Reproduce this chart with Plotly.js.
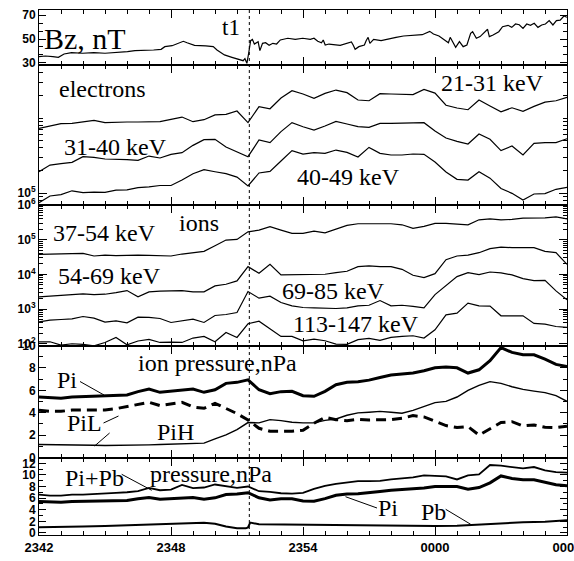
<!DOCTYPE html>
<html><head><meta charset="utf-8">
<script src="https://cdn.plot.ly/plotly-3.0.1.min.js"></script>
<style>html,body{margin:0;padding:0;background:#fff;}#chart{width:574px;height:561px;}</style>
</head><body><div id="chart"></div>
<script>
// ---- time axis (minutes after 23:42) ----
const X_TICKS = [0, 6, 12, 18, 24];
const X_TICK_LABELS = ["2342", "2348", "2354", "0000", "0006"];
const T1 = 9.56;

// ---- Bz, nT ----
const BZ_T = [0,0.29,0.63,0.88,1.14,1.48,1.98,2.49,3.0,3.51,4.02,4.36,4.87,5.21,5.55,5.72,6.05,6.39,6.56,6.73,7.07,7.58,7.92,8.09,8.43,8.77,9.11,9.28,9.36,9.45,9.53,9.62,9.70,9.79,9.96,10.04,10.16,10.30,10.46,10.63,10.80,10.97,11.31,11.65,11.99,12.33,12.50,12.67,12.84,12.92,13.01,13.18,13.69,14.03,14.20,14.28,14.37,14.54,14.79,14.87,14.96,15.04,15.21,15.55,15.89,16.23,16.57,16.91,17.42,17.76,17.93,18.18,18.44,18.61,18.69,18.86,18.94,19.11,19.28,19.45,19.62,19.71,19.88,20.05,20.22,20.39,20.47,20.64,20.90,21.07,21.32,21.49,21.66,21.83,22.00,22.17,22.34,22.51,22.68,22.85,23.02,23.19,23.36,23.52,23.69,23.86,24.0];
const BZ = [35.3,35.8,35.3,34.7,37.5,38.6,38.1,38.6,38.1,38.6,39.4,40.3,40.3,40.8,41.4,43.6,44.4,46.9,48.1,46.9,44.7,44.2,43.6,40.8,36.7,34.7,32.5,31.9,33.6,29.7,38.1,48.6,49.7,45.8,47.8,40.3,46.4,46.9,44.7,46.4,45.8,49.2,50.6,49.7,50.6,49.7,50.6,48.1,46.9,49.2,45.0,45.8,44.7,46.9,47.5,45.0,41.4,43.6,45.0,48.6,51.4,46.4,49.7,48.6,50.3,51.4,52.5,53.1,53.6,56.4,54.2,52.5,49.2,46.9,51.4,46.4,43.1,47.8,43.6,45.0,54.7,56.1,50.6,52.0,54.7,58.1,52.0,53.3,56.1,60.3,61.4,59.7,62.5,61.9,58.9,62.5,61.4,63.1,59.7,61.7,62.5,65.3,61.7,65.3,65.8,69.2,68.1];

// ---- particle sample times (minutes) ----
const T = [0,0.5,1,1.5,2,2.5,3,3.5,4,4.5,5,5.5,6,6.5,7,7.5,8,8.5,9,9.5,10,10.5,11,11.5,12,12.5,13,13.5,14,14.5,15,15.5,16,16.5,17,17.5,18,18.5,19,19.5,20,20.5,21,21.5,22,22.5,23,23.5,24];

// ---- electrons ----
const E21_31 = [7.28e5,7.82e5,8.40e5,8.49e5,8.93e5,9.31e5,8.67e5,8.85e5,8.85e5,8.85e5,8.85e5,8.93e5,9.60e5,1.03e6,8.93e5,9.50e5,1.10e6,1.12e6,1.24e6,8.67e5,1.42e6,1.33e6,1.85e6,2.31e6,2.09e6,1.83e6,2.13e6,2.36e6,2.18e6,1.74e6,1.70e6,2.11e6,2.09e6,2.09e6,2.05e6,2.41e6,2.15e6,1.48e6,1.36e6,1.29e6,1.74e6,1.45e6,1.21e6,1.37e6,1.23e6,1.43e6,1.63e6,1.70e6,1.89e6];
const E31_40 = [1.92e5,2.36e5,2.46e5,2.56e5,3.05e5,2.99e5,2.84e5,2.84e5,2.78e5,2.73e5,3.11e5,2.93e5,3.28e5,3.45e5,4.32e5,5.14e5,5.20e5,4.10e5,3.56e5,3.05e5,5.09e5,4.69e5,6.58e5,8.67e5,7.66e5,6.92e5,7.82e5,9.03e5,8.32e5,7.66e5,7.51e5,8.49e5,8.49e5,8.49e5,8.49e5,8.67e5,6.71e5,5.41e5,4.89e5,4.50e5,6.12e5,5.20e5,3.67e5,4.24e5,3.21e5,4.59e5,4.69e5,4.69e5,5.30e5];
const E40_49 = [7.43e4,9.12e4,9.50e4,1.07e5,1.01e5,1.03e5,1.02e5,1.09e5,1.10e5,1.18e5,1.21e5,1.26e5,1.26e5,1.49e5,1.81e5,2.05e5,1.92e5,1.81e5,1.63e5,1.24e5,1.85e5,1.94e5,2.67e5,3.67e5,3.31e5,3.45e5,3.38e5,3.74e5,3.48e5,3.02e5,4.06e5,3.38e5,3.21e5,3.21e5,3.31e5,3.28e5,2.59e5,1.91e5,1.52e5,1.49e5,1.92e5,1.58e5,1.15e5,9.9e4,8.07e4,9.7e4,9.8e4,1.12e5,1.19e5];

// ---- ions ----
const I37_54 = [3.78e4,3.86e4,3.86e4,3.95e4,4.04e4,3.39e4,3.61e4,3.46e4,3.61e4,3.61e4,3.54e4,3.39e4,3.39e4,3.86e4,4.13e4,4.61e4,6.71e4,9.75e4,1.02e5,1.69e5,1.89e5,2.36e5,1.89e5,1.52e5,1.52e5,1.77e5,1.58e5,2.07e5,2.58e5,2.88e5,2.88e5,2.81e5,2.88e5,2.69e5,2.11e5,2.41e5,2.94e5,2.94e5,2.75e5,2.69e5,3.75e5,4.00e5,3.75e5,3.83e5,4.19e5,4.19e5,4.28e5,4.57e5,4.00e5];
const I54_69 = [2.25e3,2.35e3,2.51e3,2.62e3,2.74e3,2.62e3,2.68e3,2.99e3,3.41e3,2.25e3,3.13e3,3.27e3,3.27e3,3.41e3,3.13e3,3.13e3,4.66e3,5.19e3,6.47e3,1.67e4,1.08e4,1.95e4,9.64e3,9.84e3,1.01e4,1.03e4,1.01e4,1.12e4,1.23e4,1.67e4,1.75e4,1.67e4,1.67e4,1.40e4,9.42e3,8.07e3,1.05e4,2.65e4,3.39e4,3.61e4,4.22e4,5.51e4,6.14e4,5.87e4,5.87e4,5.87e4,4.61e4,4.22e4,1.95e4];
const I69_85 = [430,480,501,524,611,547,421,459,402,585,573,536,411,459,513,411,653,698,796,3200,2060,2350,1550,1240,1110,1080,1040,1040,1080,1240,1290,1760,1240,1290,1190,1080,2620,4660,8630,11200,9840,11700,11000,9640,7550,6620,6760,3340,1850];
const I113_147 = [114,114,91.8,100,96,87.7,109,152,93.8,120,133,109,112,109,146,163,114,212,152,377,449,264,163,163,122,136,122,98,96,131,143,125,152,163,170,146,253,682,762,1480,1240,1220,640,640,640,385,368,315,295];

// ---- ion pressure, nPa ----
const PI = [5.40,5.31,5.28,5.40,5.43,5.43,5.52,5.49,5.58,5.88,6.11,5.82,5.91,6.05,6.11,5.82,6.05,6.62,6.71,6.94,6.05,5.70,5.88,5.91,5.52,5.46,5.91,6.50,6.71,6.77,6.91,7.15,7.36,7.45,7.54,7.74,8.01,8.07,8.01,7.54,7.83,8.64,9.82,9.38,9.17,9.17,8.78,8.31,8.13];
const PIL = [4.21,4.12,4.12,4.24,4.24,4.21,4.24,4.36,4.57,4.78,4.93,4.63,4.81,4.93,4.51,4.39,4.84,4.36,3.92,3.35,2.61,2.34,2.34,2.34,2.43,3.06,3.59,3.38,3.29,3.41,3.35,3.35,3.38,3.50,3.74,3.62,3.23,2.85,2.67,2.76,2.0,2.58,3.12,3.20,2.82,2.91,2.70,2.67,2.79];
const PIH = [1.16,1.16,1.16,1.16,1.13,1.10,1.07,1.07,1.07,1.10,1.13,1.16,1.19,1.19,1.22,1.28,1.66,2.02,2.49,3.12,3.09,3.38,3.29,3.15,3.09,3.09,3.32,3.44,3.77,3.98,4.04,4.12,4.04,3.95,4.21,4.57,4.90,5.01,5.40,5.99,6.44,6.77,6.62,6.32,6.08,5.93,5.79,5.52,5.01];

// ---- total pressure, nPa ----
const PIPB = [6.61,6.43,6.43,6.61,6.61,6.67,6.78,6.90,7.01,7.19,7.77,7.36,7.48,8.29,7.71,7.83,8.35,8.00,7.77,8.00,7.19,7.07,6.84,6.78,6.90,7.59,8.12,8.46,8.75,8.93,8.93,8.99,9.22,9.39,9.57,9.91,9.80,9.74,9.22,9.91,10.09,11.71,11.59,11.42,11.13,11.36,10.78,10.49,10.38];
const PB_T = [0,1,2,3,4,5,6,7,7.5,8,8.5,9,9.4,9.5,9.6,10,11,12,13,14,15,16,17,18,19,20,21,22,23,24];
const PB = [1.0,1.0,1.1,1.2,1.3,1.4,1.5,1.7,1.75,1.6,1.1,0.8,0.8,0.95,1.8,1.5,1.45,1.4,1.45,1.35,1.3,1.25,1.25,1.2,1.25,1.45,1.7,1.85,1.95,2.2];

// ---------------- layout helpers ----------------
const W = 574, H = 561;
const PL = 39, PR = 567, PT = 10, PBOT = 535;  // plot area in px
const edges = [10, 65, 205, 345.5, 457.5, 535];
const py = y => (PBOT - y) / (PBOT - PT);
const px = x => (x - PL) / (PR - PL);
const dom = i => [py(edges[i + 1]), py(edges[i])];

const SANS = "Liberation Sans";
const SERIF = "Liberation Serif";
const tickFont = {family: SANS, size: 12, color: "#000", weight: "bold"};
const baseAxis = {
  showline: true, linecolor: "#000", linewidth: 1, mirror: "allticks",
  ticks: "inside", tickcolor: "#000", tickwidth: 1, showgrid: false, zeroline: false,
  tickfont: tickFont, fixedrange: true
};
function logMinor(lo, hi) {
  const v = [];
  for (let e = lo; e <= hi; e++) for (let k = 2; k <= 9; k++) v.push(k * Math.pow(10, e));
  return v;
}
const xMinor = [];
for (let m = 1; m < 24; m++) if (m % 6) xMinor.push(m);

function xAxis(i) {
  const a = Object.assign({}, baseAxis, {
    range: [0, 24], anchor: "y" + (i === 1 ? "" : i), domain: [0, 1],
    tickmode: "array", tickvals: X_TICKS, ticktext: X_TICK_LABELS, ticklen: 8,
    minor: {tickmode: "array", tickvals: xMinor, ticklen: 4, ticks: "inside", tickcolor: "#000"},
    showticklabels: i === 5, ticklabeloverflow: "allow",
    tickfont: {family: SANS, size: 13, color: "#000", weight: "bold"}
  });
  if (i !== 1) a.matches = "x";
  return a;
}

const layout = {
  width: W, height: H,
  font: {family: SERIF, color: "#000"},
  margin: {l: PL, r: W - PR, t: PT, b: H - PBOT, pad: 0},
  paper_bgcolor: "#fff", plot_bgcolor: "#fff", showlegend: false,
  xaxis: xAxis(1), xaxis2: xAxis(2), xaxis3: xAxis(3), xaxis4: xAxis(4), xaxis5: xAxis(5),
  yaxis: Object.assign({}, baseAxis, {
    domain: dom(0), anchor: "x", range: [28.3, 74.2], tickmode: "array", tickvals: [30, 50, 70], ticklen: 7,
    minor: {tickmode: "array", tickvals: [36.67, 43.33, 56.67, 63.33], ticklen: 4, ticks: "inside", tickcolor: "#000"}
  }),
  yaxis2: Object.assign({}, baseAxis, {
    domain: dom(1), anchor: "x2", type: "log", range: [4.84, 6.707], tickmode: "array",
    tickvals: [1e5], ticktext: ["10<sup>5</sup>"], ticklen: 8,
    minor: {tickmode: "array", tickvals: logMinor(4, 6).concat([1e6]), ticklen: 4, ticks: "inside", tickcolor: "#000"}
  }),
  yaxis3: Object.assign({}, baseAxis, {
    domain: dom(2), anchor: "x3", type: "log", range: [1.95, 6.0], tickmode: "array",
    tickvals: [1e2, 1e3, 1e4, 1e5, 1e6],
    ticktext: ["10<sup>2</sup>", "10<sup>3</sup>", "10<sup>4</sup>", "10<sup>5</sup>", "10<sup>6</sup>"], ticklen: 8,
    minor: {tickmode: "array", tickvals: logMinor(1, 5), ticklen: 4, ticks: "inside", tickcolor: "#000"}
  }),
  yaxis4: Object.assign({}, baseAxis, {
    domain: dom(3), anchor: "x4", range: [0, 10], tickmode: "array", tickvals: [0, 2, 4, 6, 8, 10], ticklen: 7,
    minor: {tickmode: "array", tickvals: [1, 3, 5, 7, 9], ticklen: 4, ticks: "inside", tickcolor: "#000"}
  }),
  yaxis5: Object.assign({}, baseAxis, {
    domain: dom(4), anchor: "x5", range: [-0.35, 13.0], tickmode: "array", tickvals: [0, 2, 4, 6, 8, 10, 12], ticklen: 7,
    minor: {tickmode: "array", tickvals: [1, 3, 5, 7, 9, 11], ticklen: 4, ticks: "inside", tickcolor: "#000"}
  }),
  shapes: [], annotations: []
};

// dashed t1 line across all panels
layout.shapes.push({type: "line", xref: "x", yref: "paper", x0: T1, x1: T1, y0: 0, y1: 1,
  line: {color: "#000", width: 1, dash: "3px,3px"}});

// leader lines (pixel endpoints)
const leaders = [
  [80, 381.5, 104, 395],
  [103.5, 423, 118.5, 416],
  [94.6, 446, 109.6, 433],
  [121.7, 474.3, 151.7, 490.3],
  [377, 508, 345.5, 496.7],
  [445.7, 509.3, 470.7, 524.3]
];
leaders.forEach(([x0, y0, x1, y1]) => layout.shapes.push({
  type: "line", xref: "paper", yref: "paper", x0: px(x0), y0: py(y0), x1: px(x1), y1: py(y1),
  line: {color: "#000", width: 1}
}));

// text labels: [text, x px, baseline px, size, anchor]
const labels = [
  ["Bz, nT", 43, 48, 30, "left"],
  ["t1", 221, 35, 23, "left"],
  ["electrons", 58, 97, 24, "left"],
  ["21-31 keV", 545, 90.5, 24, "right"],
  ["31-40 keV", 63, 155, 24, "left"],
  ["40-49 keV", 296, 185, 24, "left"],
  ["ions", 178, 231, 24, "left"],
  ["37-54 keV", 52, 241, 24, "left"],
  ["54-69 keV", 57, 284, 24, "left"],
  ["69-85 keV", 281, 299, 24, "left"],
  ["113-147 keV", 292, 332, 24, "left"],
  ["ion pressure,nPa", 137, 371, 24, "left"],
  ["Pi", 56, 388, 24, "left"],
  ["PiL", 66, 431, 24, "left"],
  ["PiH", 156, 440, 24, "left"],
  ["Pi+Pb", 64, 486, 24, "left"],
  ["pressure,nPa", 149, 482, 24, "left"],
  ["Pi", 377, 516, 24, "left"],
  ["Pb", 420, 520, 24, "left"]
];
labels.forEach(([t, x, b, s, a]) => layout.annotations.push({
  text: t, xref: "paper", yref: "paper", x: px(x), y: py(b - 0.33 * s),
  xanchor: a, yanchor: "middle", showarrow: false, borderpad: 0,
  font: {family: SERIF, size: s, color: "#000"}
}));

const thin = {color: "#000", width: 1.2};
const data = [
  {x: BZ_T, y: BZ, xaxis: "x", yaxis: "y", mode: "lines", line: thin},
  {x: T, y: E21_31, xaxis: "x2", yaxis: "y2", mode: "lines", line: thin},
  {x: T, y: E31_40, xaxis: "x2", yaxis: "y2", mode: "lines", line: thin},
  {x: T, y: E40_49, xaxis: "x2", yaxis: "y2", mode: "lines", line: thin},
  {x: T, y: I37_54, xaxis: "x3", yaxis: "y3", mode: "lines", line: thin},
  {x: T, y: I54_69, xaxis: "x3", yaxis: "y3", mode: "lines", line: thin},
  {x: T, y: I69_85, xaxis: "x3", yaxis: "y3", mode: "lines", line: thin},
  {x: T, y: I113_147, xaxis: "x3", yaxis: "y3", mode: "lines", line: thin},
  {x: T, y: PI, xaxis: "x4", yaxis: "y4", mode: "lines", line: {color: "#000", width: 3}},
  {x: T, y: PIL, xaxis: "x4", yaxis: "y4", mode: "lines", line: {color: "#000", width: 3, dash: "10px,6px"}},
  {x: T, y: PIH, xaxis: "x4", yaxis: "y4", mode: "lines", line: {color: "#000", width: 1.4}},
  {x: T, y: PIPB, xaxis: "x5", yaxis: "y5", mode: "lines", line: {color: "#000", width: 1.8}},
  {x: T, y: PI, xaxis: "x5", yaxis: "y5", mode: "lines", line: {color: "#000", width: 3}},
  {x: PB_T, y: PB, xaxis: "x5", yaxis: "y5", mode: "lines", line: {color: "#000", width: 2}}
];

Plotly.newPlot("chart", data, layout, {staticPlot: true, displayModeBar: false});
</script></body></html>
